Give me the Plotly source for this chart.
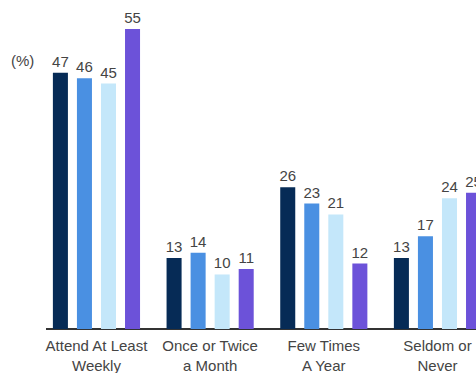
import plotly.graph_objects as go

categories = ["Attend At Least<br>Weekly", "Once or Twice<br>a Month", "Few Times<br>A Year", "Seldom or<br>Never"]
series_names = ["Group 1", "Group 2", "Group 3", "Group 4"]
series_values = [
    [47, 13, 26, 13],
    [46, 14, 23, 17],
    [45, 10, 21, 24],
    [55, 11, 12, 25],
]
colors = ["#062b56", "#4a90e2", "#c4e7fa", "#6c52d9"]

fig = go.Figure()
for name, vals, col in zip(series_names, series_values, colors):
    fig.add_trace(go.Bar(
        x=categories, y=vals, name=name,
        marker=dict(color=col, line=dict(width=0)),
        text=[str(v) for v in vals], textposition="outside",
        textfont=dict(family="Liberation Sans, Arial", size=15, color="#444444"),
        constraintext="none",
        cliponaxis=False,
    ))

fig.update_layout(
    width=476, height=373,
    margin=dict(l=46, r=0, t=10, b=44),
    paper_bgcolor="white", plot_bgcolor="white",
    barmode="group", bargap=0.154, bargroupgap=0.375,
    showlegend=False,
    font=dict(family="Liberation Sans, Arial", size=15, color="#444444"),
    xaxis=dict(
        range=[-0.444, 3.339], showgrid=False, zeroline=False,
        showline=False, ticks="", ticklabelstandoff=6,
        tickfont=dict(size=15, color="#444444"),
    ),
    yaxis=dict(
        range=[0, 58.5], showgrid=False, zeroline=True, zerolinecolor="#333333",
        zerolinewidth=2, showticklabels=False, showline=False, ticks="",
    ),
    annotations=[dict(
        text="(%)", xref="paper", yref="paper",
        x=-24 / 430, y=(329 - 61) / 319, xanchor="center", yanchor="middle",
        showarrow=False, font=dict(size=15, color="#444444"),
    )],
)

fig.write_html("out.html")
